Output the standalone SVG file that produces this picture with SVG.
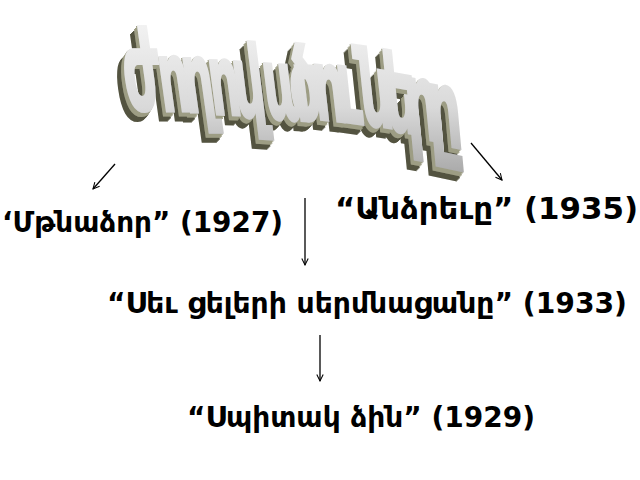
<svg xmlns="http://www.w3.org/2000/svg" width="640" height="480" viewBox="0 0 640 480">
  <defs>
    <style>
      .lbl { font-family: "DejaVu Sans", "Noto Sans", sans-serif; font-weight: bold; fill: #000; }
      .title { font-family: "DejaVu Sans", "Noto Sans", sans-serif; font-weight: bold; fill: url(#face); stroke: url(#face); stroke-width: 3; }
      .conn { stroke: #000; stroke-width: 1.3; fill: none; marker-end: url(#arr); }
    </style>
    <linearGradient id="face" x1="0" y1="0" x2="0" y2="1">
      <stop offset="0" stop-color="#f7f7f7"/>
      <stop offset="0.6" stop-color="#d9d9d9"/>
      <stop offset="1" stop-color="#a9a9a9"/>
    </linearGradient>
    <marker id="arr" viewBox="0 0 10 10" refX="9" refY="5" markerWidth="8" markerHeight="8" markerUnits="userSpaceOnUse" orient="auto">
      <path d="M1,1 L9,5 L1,9" fill="none" stroke="#000" stroke-width="1.3"/>
    </marker>
    <filter id="extrude" x="-15%" y="-20%" width="135%" height="150%">
      <feOffset in="SourceAlpha" dx="-4" dy="5.5" result="d4"/>
      <feOffset in="SourceAlpha" dx="-5" dy="6.8" result="d5"/>
      <feOffset in="SourceAlpha" dx="-6" dy="8" result="d6"/>
      <feOffset in="SourceAlpha" dx="-7" dy="9.2" result="d7"/>
      <feMerge result="deep">
        <feMergeNode in="d4"/><feMergeNode in="d5"/><feMergeNode in="d6"/><feMergeNode in="d7"/>
      </feMerge>
      <feFlood flood-color="#535340"/>
      <feComposite in2="deep" operator="in" result="deepc"/>
      <feOffset in="SourceAlpha" dx="-1" dy="1.3" result="s1"/>
      <feOffset in="SourceAlpha" dx="-2" dy="2.6" result="s2"/>
      <feOffset in="SourceAlpha" dx="-3" dy="3.9" result="s3"/>
      <feMerge result="shallow">
        <feMergeNode in="s1"/><feMergeNode in="s2"/><feMergeNode in="s3"/>
      </feMerge>
      <feFlood flood-color="#9d9d84"/>
      <feComposite in2="shallow" operator="in" result="shallowc"/>
      <feMerge>
        <feMergeNode in="deepc"/><feMergeNode in="shallowc"/><feMergeNode in="SourceGraphic"/>
      </feMerge>
    </filter>
  </defs>
  <rect width="640" height="480" fill="#fff"/>

  <g id="title" filter="url(#extrude)">
    <text class="title" transform="skewX(8) scale(0.48,1)"><tspan x="234.4" y="110" font-size="110">ժ</tspan><tspan x="307" y="111" font-size="98">ո</tspan><tspan x="356.9" y="112" font-size="98">ղ</tspan><tspan x="410.4" y="114" font-size="98" rotate="1">ո</tspan><tspan x="459.8" y="116" font-size="100" rotate="2">վ</tspan><tspan x="521.7" y="118" font-size="100" rotate="2">ա</tspan><tspan x="575.8" y="118" font-size="100" rotate="3">ծ</tspan><tspan x="625.6" y="119" font-size="100" rotate="3">ո</tspan><tspan x="672.9" y="121" font-size="102" rotate="4">ւ</tspan><tspan x="720" y="124" font-size="104" rotate="4">ն</tspan><tspan x="768.8" y="129" font-size="106" rotate="5">ե</tspan><tspan x="810.8" y="136" font-size="108" rotate="5">ր</tspan><tspan x="854.8" y="142" font-size="108" rotate="6">ը</tspan></text>
  </g>

  <g id="connectors">
    <line class="conn" x1="115" y1="164" x2="93" y2="189"/>
    <line class="conn" x1="471" y1="143" x2="502" y2="180"/>
    <line class="conn" x1="305" y1="198" x2="305" y2="265"/>
    <line class="conn" x1="320" y1="335" x2="320" y2="381"/>
  </g>

  <g id="n-mtnadzor">
    <text class="lbl" x="2" y="232" font-size="28" textLength="281" lengthAdjust="spacingAndGlyphs">‘Մթնաձոր” (1927)</text>
  </g>
  <g id="n-andzreve">
    <text class="lbl" x="335" y="219" font-size="30" textLength="303" lengthAdjust="spacingAndGlyphs">“Անձրեւը” (1935)</text>
  </g>
  <g id="n-sev">
    <text class="lbl" x="107" y="313" font-size="28.3" textLength="520" lengthAdjust="spacingAndGlyphs">“Սեւ ցելերի սերմնացանը” (1933)</text>
  </g>
  <g id="n-spitak">
    <text class="lbl" x="187" y="427" font-size="28.2" textLength="348" lengthAdjust="spacingAndGlyphs">“Սպիտակ ձին” (1929)</text>
  </g>
</svg>
